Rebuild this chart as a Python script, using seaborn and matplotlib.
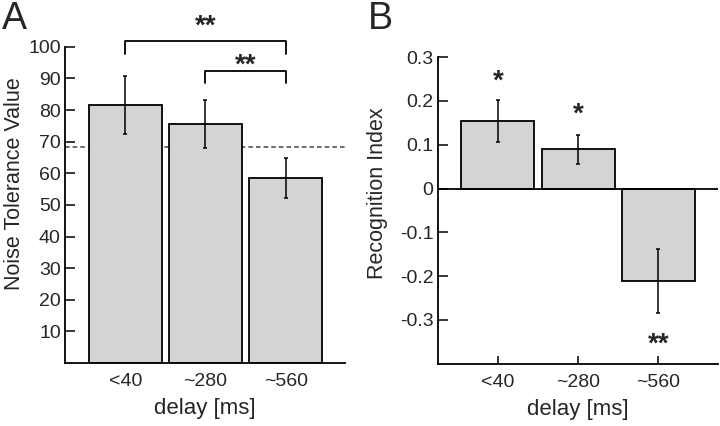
import matplotlib
matplotlib.use("Agg")
import matplotlib.pyplot as plt
import seaborn as sns
import pandas as pd

# data
delays = ["<40", "~280", "~560"]
noise_tol = [81.6, 75.6, 58.6]
noise_err = [9.3, 7.6, 6.3]
noise_chance = 68.4
recog_idx = [0.155, 0.090, -0.211]
recog_err = [0.048, 0.033, 0.074]
recog_stars = ["*", "*", "**"]
recog_star_y = [0.245, 0.168, -0.357]

sns.set_theme(style="ticks")
plt.rcParams["font.family"] = ["Liberation Sans", "DejaVu Sans"]

BAR = "#d4d4d4"
LW = 1.3

fig = plt.figure(figsize=(7.2, 4.26), dpi=100)
axA = fig.add_axes([0.0903, 0.148, 0.389, 0.742])
axB = fig.add_axes([0.608, 0.146, 0.389, 0.720])

dfA = pd.DataFrame({"delay": delays, "val": noise_tol})
dfB = pd.DataFrame({"delay": delays, "val": recog_idx})

for ax, df, err in [(axA, dfA, noise_err), (axB, dfB, recog_err)]:
    sns.barplot(data=df, x="delay", y="val", order=delays, color=BAR,
                width=0.91, edgecolor="black", linewidth=LW, saturation=1,
                errorbar=None, ax=ax)
    ax.errorbar(range(len(delays)), df["val"], yerr=err, fmt="none",
                ecolor="black", elinewidth=1.1, capsize=1.5, capthick=1.1)
    for s in ["top", "right"]:
        ax.spines[s].set_visible(False)
    for s in ["left", "bottom"]:
        ax.spines[s].set_linewidth(LW)
        ax.spines[s].set_color("black")
    ax.set_xlim(-0.75, 2.74)
    ax.set_xlabel("delay [ms]", fontsize=16, labelpad=6)
    ax.tick_params(axis="y", direction="in", length=7, width=LW,
                   labelsize=14, pad=3)
    ax.tick_params(axis="x", labelsize=14, pad=7)

# panel A
axA.set_ylim(0, 100)
axA.set_yticks(range(10, 101, 10))
axA.spines["left"].set_bounds(0, 100)
axA.tick_params(axis="x", length=0)
axA.axhline(noise_chance, color="#444444", lw=1.1, ls=(0, (3, 2)), zorder=0.5)
axA.set_ylabel("Noise Tolerance Value", fontsize=15.5)
axA.yaxis.set_label_coords(-0.143, 0.566)

def bracket(ax, x0, x1, y, h, label, ly):
    ax.plot([x0, x0, x1, x1], [y - h, y, y, y - h], color="black", lw=LW,
            clip_on=False)
    ax.text((x0 + x1) / 2, ly, label, ha="center", va="center",
            fontsize=20, fontweight="bold", clip_on=False)

bracket(axA, 0, 2, 101.9, 4.1, "**", 106.3)
bracket(axA, 1, 2, 92.5, 4.0, "**", 94.0)

# panel B
axB.set_ylim(-0.4, 0.3)
axB.set_yticks([-0.3, -0.2, -0.1, 0, 0.1, 0.2, 0.3])
axB.set_yticklabels(["-0.3", "-0.2", "-0.1", "0", "0.1", "0.2", "0.3"])
axB.spines["left"].set_bounds(-0.4, 0.3)
axB.axhline(0, color="black", lw=LW, zorder=3)
axB.tick_params(axis="x", direction="in", length=6, width=LW)
axB.set_ylabel("Recognition Index", fontsize=15.5)
axB.yaxis.set_label_coords(-0.178, 0.555)
for i, (s, yy) in enumerate(zip(recog_stars, recog_star_y)):
    axB.text(i, yy, s, ha="center", va="center", fontsize=20,
             fontweight="bold")

fig.text(0.002, 0.998, "A", fontsize=27, ha="left", va="top")
fig.text(0.511, 0.998, "B", fontsize=27, ha="left", va="top")

fig.savefig("out.png", dpi=100)
